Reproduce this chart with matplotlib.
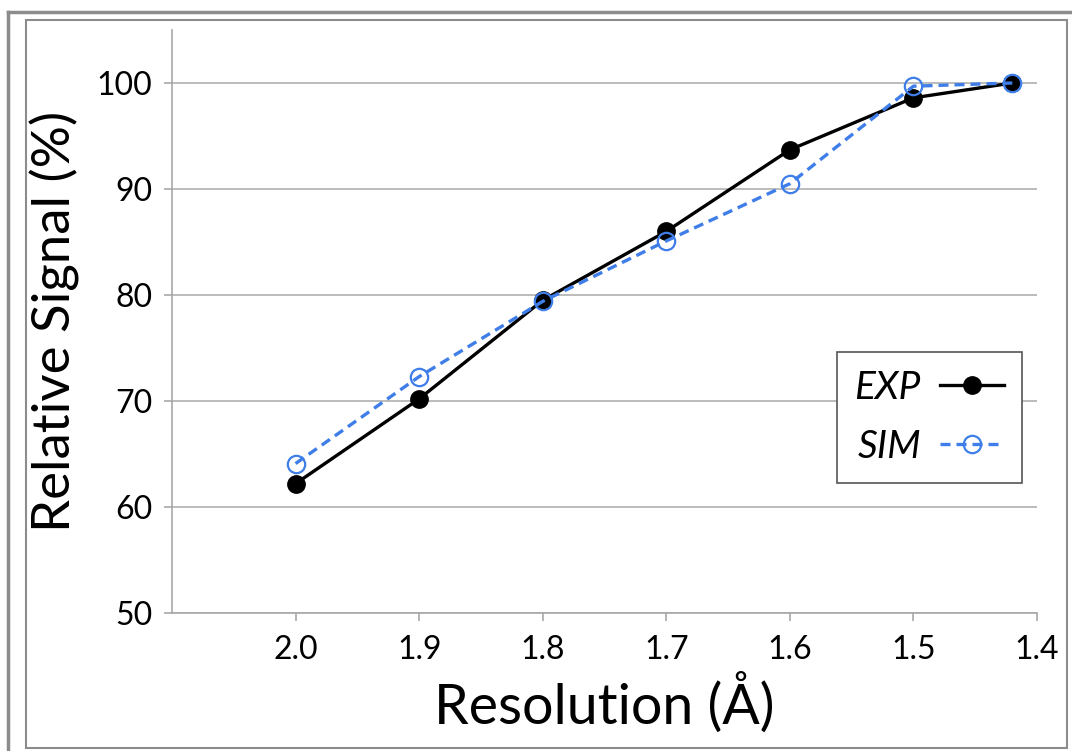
import matplotlib.pyplot as plt
from matplotlib.lines import Line2D

# dados
resolucao = [2.0, 1.9, 1.8, 1.7, 1.6, 1.5, 1.42]
sinal_exp = [62.2, 70.2, 79.5, 86.0, 93.7, 98.6, 100.0]
sinal_sim = [64.1, 72.3, 79.4, 85.1, 90.5, 99.7, 100.0]
ticks_x = [2.0, 1.9, 1.8, 1.7, 1.6, 1.5, 1.4]
ticks_y = [50, 60, 70, 80, 90, 100]

plt.rcParams['font.family'] = ['Lato', 'DejaVu Sans']

fig = plt.figure(figsize=(10.72, 7.51), dpi=100)
ax = fig.add_axes([172 / 1072, 1 - 613 / 751, (1037 - 172) / 1072, (613 - 30) / 751])

# molduras externas
cinza = '#8c8c8c'
fig.add_artist(Line2D([8 / 1072, 8 / 1072], [0, 1 - 12 / 751], transform=fig.transFigure, color=cinza, lw=2.5))
fig.add_artist(Line2D([8 / 1072, 1], [1 - 12 / 751, 1 - 12 / 751], transform=fig.transFigure, color=cinza, lw=2.5))
fig.add_artist(plt.Rectangle((26 / 1072, 3 / 751), (1067 - 26) / 1072, (748 - 20) / 751,
                             transform=fig.transFigure, fill=False, edgecolor=cinza, lw=1.5))

ax.plot(resolucao, sinal_exp, color='black', lw=2.4, marker='o', markersize=12.5,
        markerfacecolor='black', markeredgecolor='black', label='EXP', zorder=3)
ax.plot(resolucao, sinal_sim, color='#3f7ee8', lw=2.4, ls=(0, (3, 1.8)), marker='o', markersize=12.5,
        markerfacecolor='none', markeredgecolor='#3f7ee8', markeredgewidth=1.6, label='SIM', zorder=4)

ax.set_xlim(2.1, 1.4)
ax.set_ylim(50, 105)
ax.set_xticks(ticks_x)
ax.set_xticklabels([f'{t:.1f}' for t in ticks_x])
ax.set_yticks(ticks_y)

ax.grid(axis='y', color='#b0b0b0', lw=1.2)
ax.set_axisbelow(True)
for lado in ['top', 'right']:
    ax.spines[lado].set_visible(False)
for lado in ['left', 'bottom']:
    ax.spines[lado].set_color('#a8a8a8')
    ax.spines[lado].set_linewidth(1.2)

ax.tick_params(axis='x', direction='out', length=6, width=1.2, color='#a8a8a8', labelsize=23, pad=10)
ax.tick_params(axis='y', direction='out', length=6, width=1.2, color='#a8a8a8', labelsize=23, pad=8)

ax.set_xlabel('Resolution (Å)', fontsize=40, labelpad=5)
ax.set_ylabel('Relative Signal (%)', fontsize=38, labelpad=12)

# legenda com o texto antes do marcador
leg = ax.legend(loc='upper left', bbox_to_anchor=((837 - 172) / 865, (105 - 80.4) / 55),
                markerfirst=False, fancybox=False, framealpha=1, edgecolor='#555555',
                prop={'style': 'italic', 'size': 28}, handlelength=1.65, handletextpad=0.5,
                borderpad=0.45, labelspacing=0.6, borderaxespad=0)
leg.get_frame().set_linewidth(1.2)

fig.savefig('out.png', dpi=100)
